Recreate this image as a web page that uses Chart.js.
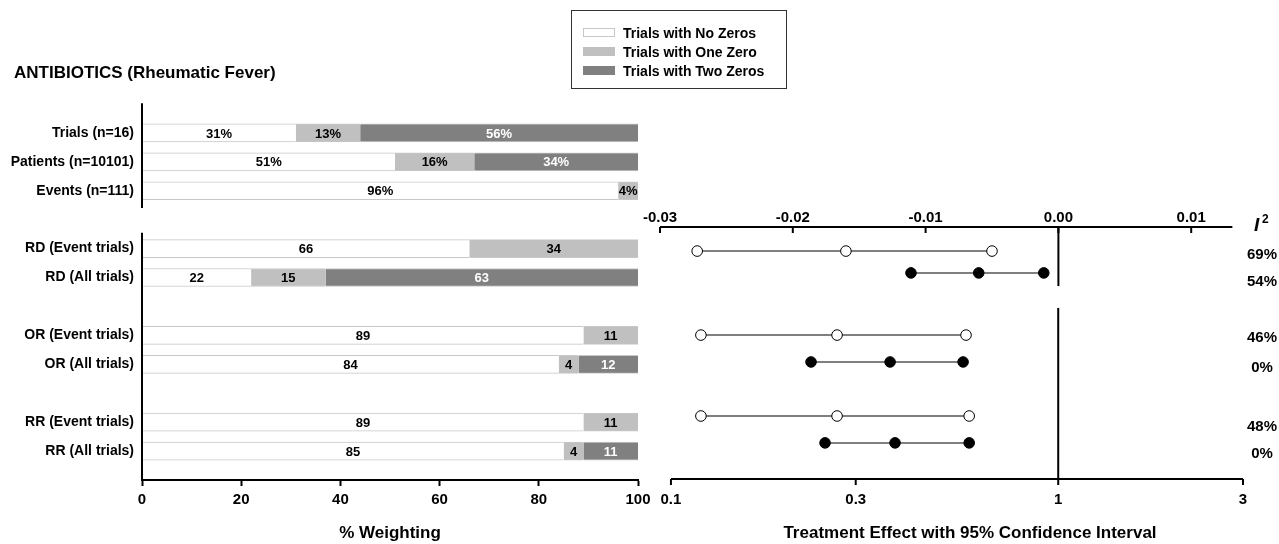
<!DOCTYPE html>
<html>
<head>
<meta charset="utf-8">
<title>ANTIBIOTICS (Rheumatic Fever)</title>
<script src="https://cdn.jsdelivr.net/npm/chart.js@4.4.1/dist/chart.umd.min.js"></script>
<style>
  body { margin: 0; background: #fff; font-family: "Liberation Sans", Arial, sans-serif; }
  #page { position: relative; width: 1279px; height: 544px; overflow: hidden; }
  #title { position: absolute; left: 14px; top: 63px; font-size: 17px; line-height: 20px; font-weight: bold; }
  #legend { position: absolute; left: 571px; top: 10px; width: 216px; height: 79px; border: 1px solid #333;
            box-sizing: border-box; padding: 12px 0 0 11px; }
  .item { height: 19px; font-size: 14px; font-weight: bold; display: flex; align-items: center; }
  .swatch { width: 32px; height: 9px; margin-right: 8px; box-sizing: border-box; }
  #left { position: absolute; left: 0; top: 0; width: 660px; height: 544px; }
  #right { position: absolute; left: 640px; top: 0; width: 639px; height: 544px; }
</style>
</head>
<body>
<div id="page">
  <div id="left"><canvas id="weightChart"></canvas></div>
  <div id="right"><canvas id="effectChart"></canvas></div>
  <div id="title">ANTIBIOTICS (Rheumatic Fever)</div>
  <div id="legend"></div>
</div>
<script>
// left panel: % weighting by trial type
const rowLabels = ['', 'Trials (n=16)', 'Patients (n=10101)', 'Events (n=111)', '',
  'RD (Event trials)', 'RD (All trials)', '', 'OR (Event trials)', 'OR (All trials)', '',
  'RR (Event trials)', 'RR (All trials)', ''];
const seriesNames = ['Trials with No Zeros', 'Trials with One Zero', 'Trials with Two Zeros'];
const seriesColors = ['#ffffff', '#c0c0c0', '#808080'];
const labelColors = ['#000000', '#000000', '#ffffff'];
const noZeros  = [null, 31, 51, 96, null, 66, 22, null, 89, 84, null, 89, 85, null];
const oneZero  = [null, 13, 16, 4, null, 34, 15, null, 11, 4, null, 11, 4, null];
const twoZeros = [null, 56, 33, null, null, null, 63, null, null, 12, null, null, 11, null];
const noZerosText  = ['', '31%', '51%', '96%', '', '66', '22', '', '89', '84', '', '89', '85', ''];
const oneZeroText  = ['', '13%', '16%', '4%', '', '34', '15', '', '11', '4', '', '11', '4', ''];
const twoZerosText = ['', '56%', '34%', '', '', '', '63', '', '', '12', '', '', '11', ''];

// right panel: treatment effect with 95% CI
const rdTicks = [-0.03, -0.02, -0.01, 0.00, 0.01];
const ratioTicks = [0.1, 0.3, 1, 3];
const ciNames = ['RD (Event trials)', 'RD (All trials)', 'OR (Event trials)', 'OR (All trials)', 'RR (Event trials)', 'RR (All trials)'];
const ciScale = ['rd', 'rd', 'ratio', 'ratio', 'ratio', 'ratio'];
const ciAllTrials = [false, true, false, true, false, true];
const ciLower    = [-0.0272, -0.0111, 0.1195, 0.230, 0.1195, 0.250];
const ciEstimate = [-0.0160, -0.0060, 0.2685, 0.368, 0.2685, 0.379];
const ciUpper    = [-0.0050, -0.0011, 0.578, 0.568, 0.589, 0.589];
const ciRowPos   = [0.86, 1.64, 3.86, 4.82, 6.75, 7.71];
const i2Values = ['69%', '54%', '46%', '0%', '48%', '0%'];
const i2RowPos = [1.0, 1.96, 3.96, 5.04, 7.14, 8.11];

const FONT = '"Liberation Sans", Arial, sans-serif';
Chart.defaults.font.family = FONT;
Chart.defaults.color = '#000';

// legend
const legendEl = document.getElementById('legend');
seriesNames.forEach((name, i) => {
  const item = document.createElement('div');
  item.className = 'item';
  const sw = document.createElement('span');
  sw.className = 'swatch';
  sw.style.background = seriesColors[i];
  if (i === 0) sw.style.border = '1px solid #c8c8c8';
  item.appendChild(sw);
  item.appendChild(document.createTextNode(name));
  legendEl.appendChild(item);
});

const barLabels = {
  id: 'barLabels',
  afterDatasetsDraw(chart) {
    const texts = [noZerosText, oneZeroText, twoZerosText];
    const ctx = chart.ctx;
    ctx.save();
    ctx.font = 'bold 13px ' + FONT;
    ctx.textAlign = 'center';
    ctx.textBaseline = 'middle';
    chart.data.datasets.forEach((ds, i) => {
      chart.getDatasetMeta(i).data.forEach((bar, j) => {
        const t = texts[i][j];
        if (!t) return;
        ctx.fillStyle = labelColors[i];
        ctx.fillText(t, (bar.x + bar.base) / 2, bar.y + 1);
      });
    });
    ctx.restore();
  }
};

// y axis is drawn in two pieces, with a gap under the first group
const splitAxis = {
  id: 'splitAxis',
  afterDraw(chart) {
    const { x, y } = chart.scales;
    const ctx = chart.ctx;
    ctx.save();
    ctx.strokeStyle = '#000';
    ctx.lineWidth = 2;
    [[-0.03, 3.6], [4.45, 13]].forEach(([a, b]) => {
      ctx.beginPath();
      ctx.moveTo(x.left, y.getPixelForValue(a));
      ctx.lineTo(x.left, y.getPixelForValue(b));
      ctx.stroke();
    });
    ctx.restore();
  }
};

new Chart(document.getElementById('weightChart'), {
  type: 'bar',
  data: {
    labels: rowLabels,
    datasets: [
      { label: seriesNames[0], data: noZeros, backgroundColor: seriesColors[0],
        borderColor: '#c8c8c8', borderWidth: { top: 1, bottom: 1, left: 0, right: 0 } },
      { label: seriesNames[1], data: oneZero, backgroundColor: seriesColors[1],
        borderColor: '#c8c8c8', borderWidth: { top: 1, bottom: 1, left: 0, right: 0 } },
      { label: seriesNames[2], data: twoZeros, backgroundColor: seriesColors[2],
        borderColor: '#c8c8c8', borderWidth: { top: 1, bottom: 1, left: 0, right: 0 } },
    ],
  },
  options: {
    indexAxis: 'y',
    responsive: true,
    maintainAspectRatio: false,
    animation: false,
    events: [],
    barThickness: 18,
    layout: { padding: { top: 104, right: 22, left: 0, bottom: 0 } },
    plugins: { legend: { display: false }, tooltip: { enabled: false } },
    scales: {
      x: {
        stacked: true, min: 0, max: 100,
        ticks: { stepSize: 20, padding: 5, font: { size: 15, weight: 'bold' } },
        grid: { drawOnChartArea: false, drawTicks: true, tickLength: 6, tickWidth: 2, tickColor: '#000' },
        border: { display: true, color: '#000', width: 2 },
        title: { display: true, text: '% Weighting', font: { size: 17, weight: 'bold' }, padding: { top: 0, bottom: 0 } },
        afterFit(s) { s.height = 64; },
      },
      y: {
        stacked: true, offset: false,
        ticks: { autoSkip: false, padding: 8, font: { size: 14, weight: 'bold' } },
        grid: { display: false, drawTicks: false },
        border: { display: false },
        afterFit(s) { s.width = 142; },
      },
    },
  },
  plugins: [barLabels, splitAxis],
});

const effectAxes = {
  id: 'effectAxes',
  beforeDatasetsDraw(chart) {
    const { xTop, xBot, y } = chart.scales;
    const { top, bottom } = chart.chartArea;
    const ctx = chart.ctx;
    ctx.save();
    ctx.strokeStyle = '#000';
    ctx.lineWidth = 2;
    const line = (x1, y1, x2, y2) => { ctx.beginPath(); ctx.moveTo(x1, y1); ctx.lineTo(x2, y2); ctx.stroke(); };
    // risk difference axis on top
    line(xTop.getPixelForValue(-0.03), top, xTop.getPixelForValue(0.0131), top);
    rdTicks.forEach(v => line(xTop.getPixelForValue(v), top, xTop.getPixelForValue(v), top + 6));
    line(xTop.getPixelForValue(0), top, xTop.getPixelForValue(0), y.getPixelForValue(2.11));
    // ratio axis (log) at the bottom
    line(xBot.getPixelForValue(0.1), bottom, xBot.getPixelForValue(3), bottom);
    ratioTicks.forEach(v => line(xBot.getPixelForValue(v), bottom, xBot.getPixelForValue(v), bottom + 6));
    line(xBot.getPixelForValue(1), y.getPixelForValue(2.89), xBot.getPixelForValue(1), bottom);
    ctx.restore();
  },
  afterDraw(chart) {
    const { y } = chart.scales;
    const ctx = chart.ctx;
    ctx.save();
    ctx.fillStyle = '#000';
    ctx.textBaseline = 'alphabetic';
    ctx.textAlign = 'left';
    ctx.font = 'italic bold 19px ' + FONT;
    ctx.fillText('I', 614, 231);
    ctx.font = 'bold 12px ' + FONT;
    ctx.fillText('2', 622, 223);
    ctx.textAlign = 'center';
    ctx.textBaseline = 'middle';
    ctx.font = 'bold 15px ' + FONT;
    i2Values.forEach((t, i) => ctx.fillText(t, 622, y.getPixelForValue(i2RowPos[i])));
    ctx.font = 'bold 17px ' + FONT;
    ctx.fillText('Treatment Effect with 95% Confidence Interval', 330, 533);
    ctx.restore();
  }
};

new Chart(document.getElementById('effectChart'), {
  type: 'scatter',
  data: {
    datasets: ciNames.map((name, i) => ({
      label: name,
      data: [
        { x: ciLower[i], y: ciRowPos[i] },
        { x: ciEstimate[i], y: ciRowPos[i] },
        { x: ciUpper[i], y: ciRowPos[i] },
      ],
      xAxisID: ciScale[i] === 'rd' ? 'xTop' : 'xBot',
      yAxisID: 'y',
      showLine: true,
      borderColor: '#555',
      borderWidth: 1.5,
      pointRadius: 5.3,
      pointBorderWidth: 1,
      pointBorderColor: '#000',
      pointBackgroundColor: ciAllTrials[i] ? '#000' : '#fff',
    })),
  },
  options: {
    responsive: true,
    maintainAspectRatio: false,
    animation: false,
    events: [],
    layout: { padding: { left: 20, right: 36, top: 0, bottom: 0 } },
    plugins: { legend: { display: false }, tooltip: { enabled: false } },
    scales: {
      xTop: {
        type: 'linear', position: 'top', min: -0.03, max: 0.0139,
        afterBuildTicks(s) { s.ticks = rdTicks.map(v => ({ value: v })); },
        ticks: { padding: 0, font: { size: 15, weight: 'bold' }, callback: v => v.toFixed(2) },
        grid: { display: false, drawTicks: false },
        border: { display: false },
        afterFit(s) { s.height = 227; },
      },
      xBot: {
        type: 'logarithmic', position: 'bottom', min: 0.0937, max: 3,
        afterBuildTicks(s) { s.ticks = ratioTicks.map(v => ({ value: v })); },
        ticks: { padding: 12, font: { size: 15, weight: 'bold' }, callback: v => String(v) },
        grid: { display: false, drawTicks: false },
        border: { display: false },
        afterFit(s) { s.height = 65; },
      },
      y: { type: 'linear', display: false, min: 0, max: 9, reverse: true },
    },
  },
  plugins: [effectAxes],
});
</script>
</body>
</html>
